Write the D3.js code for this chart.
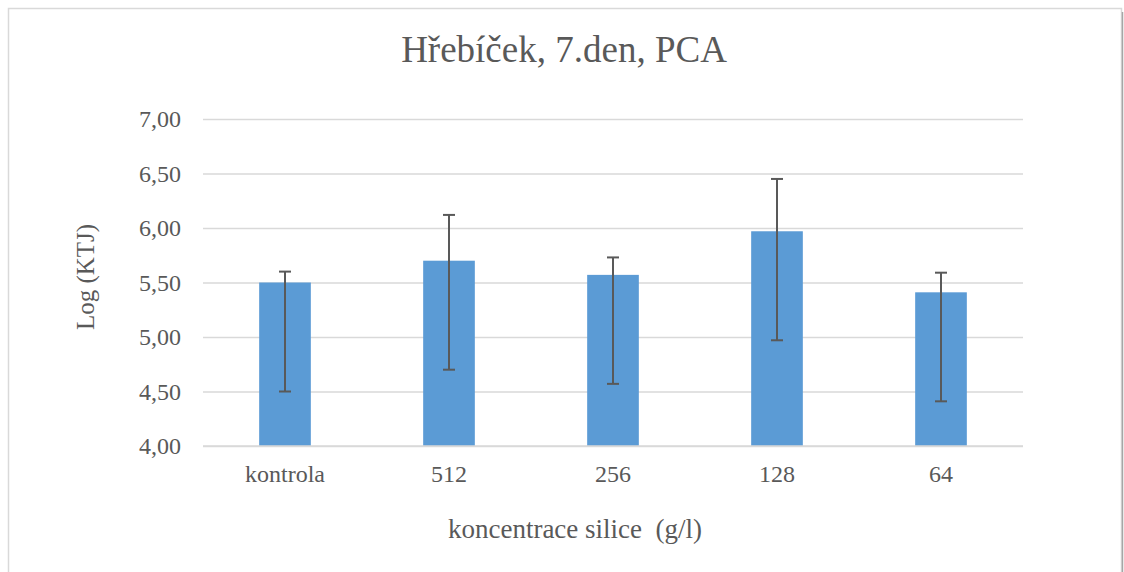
<!DOCTYPE html>
<html><head><meta charset="utf-8">
<script src="https://cdn.jsdelivr.net/npm/d3@7"></script>
<style>body{margin:0;background:#fff}svg{display:block}</style>
</head><body>
<svg id="c" width="1124" height="572"></svg>
<script>
const categories = ["kontrola", "512", "256", "128", "64"];
const values = [5.50, 5.70, 5.57, 5.97, 5.41];
const errPlus = [0.10, 0.42, 0.16, 0.48, 0.18];
const errMinus = [1.00, 1.00, 1.00, 1.00, 1.00];
const yTicks = [4.0, 4.5, 5.0, 5.5, 6.0, 6.5, 7.0];
const titleText = "Hřebíček, 7.den, PCA";
const yTitle = "Log (KTJ)";
const xTitle = "koncentrace silice  (g/l)";

const svg = d3.select("#c");
const m = {left: 203, right: 1023, top: 119, bottom: 446};
const font = "'Liberation Serif','Times New Roman',serif";
const txt = "#595959";

// chart border
svg.append("rect").attr("x", 8.5).attr("y", 8.5).attr("width", 1113).attr("height", 600)
  .attr("fill", "#fff").attr("stroke", "#d9d9d9").attr("stroke-width", 1.5);
svg.append("line").attr("x1", 1122.5).attr("x2", 1122.5).attr("y1", 12).attr("y2", 572)
  .attr("stroke", "#a6a6a6").attr("stroke-width", 1.5);

const x = d3.scaleBand().domain(categories).range([m.left, m.right]).paddingInner(0.685).paddingOuter(0.3425);
const y = d3.scaleLinear().domain([4, 7]).range([m.bottom, m.top]);

// gridlines via axis
const gy = svg.append("g").attr("transform", `translate(${m.left},0)`)
  .call(d3.axisLeft(y).tickValues(yTicks).tickSize(-(m.right - m.left)).tickFormat(d => d3.format(".2f")(d).replace(".", ",")));
gy.select(".domain").remove();
gy.selectAll(".tick line").attr("stroke", "#d9d9d9").attr("stroke-width", 1.5);
gy.selectAll(".tick text").attr("x", -22).attr("fill", txt).style("font-family", font).style("font-size", "24px");

// bars
svg.append("g").selectAll("rect").data(categories).join("rect")
  .attr("x", d => x(d)).attr("width", x.bandwidth())
  .attr("y", (d, i) => y(values[i])).attr("height", (d, i) => y(4) - y(values[i]))
  .attr("fill", "#5b9bd5");

// error bars
const eg = svg.append("g").attr("stroke", "#595959").attr("stroke-width", 2);
categories.forEach((c, i) => {
  const cx = x(c) + x.bandwidth() / 2;
  const top = y(values[i] + errPlus[i]), bot = y(values[i] - errMinus[i]);
  eg.append("line").attr("x1", cx).attr("x2", cx).attr("y1", top).attr("y2", bot);
  eg.append("line").attr("x1", cx - 6).attr("x2", cx + 6).attr("y1", top).attr("y2", top);
  eg.append("line").attr("x1", cx - 6).attr("x2", cx + 6).attr("y1", bot).attr("y2", bot);
});

// x axis
const gx = svg.append("g").attr("transform", `translate(0,${m.bottom})`)
  .call(d3.axisBottom(x).tickSize(0).tickPadding(0));
gx.select(".domain").attr("stroke", "#d9d9d9").attr("stroke-width", 1.5).attr("d", `M${m.left},0H${m.right}`);
gx.selectAll(".tick text").attr("dy", 0).attr("y", 36).attr("fill", txt).style("font-family", font).style("font-size", "24px");

// titles
svg.append("text").attr("x", 564).attr("y", 62).attr("text-anchor", "middle")
  .attr("fill", txt).style("font-family", font).style("font-size", "37px").text(titleText);
svg.append("text").attr("transform", `translate(94,277) rotate(-90)`)
  .attr("text-anchor", "middle").attr("fill", txt).style("font-family", font).style("font-size", "25px").text(yTitle);
svg.append("text").attr("x", 575).attr("y", 538).attr("text-anchor", "middle").attr("xml:space", "preserve")
  .style("white-space", "pre")
  .attr("fill", txt).style("font-family", font).style("font-size", "27px").text(xTitle);
</script>
</body></html>
